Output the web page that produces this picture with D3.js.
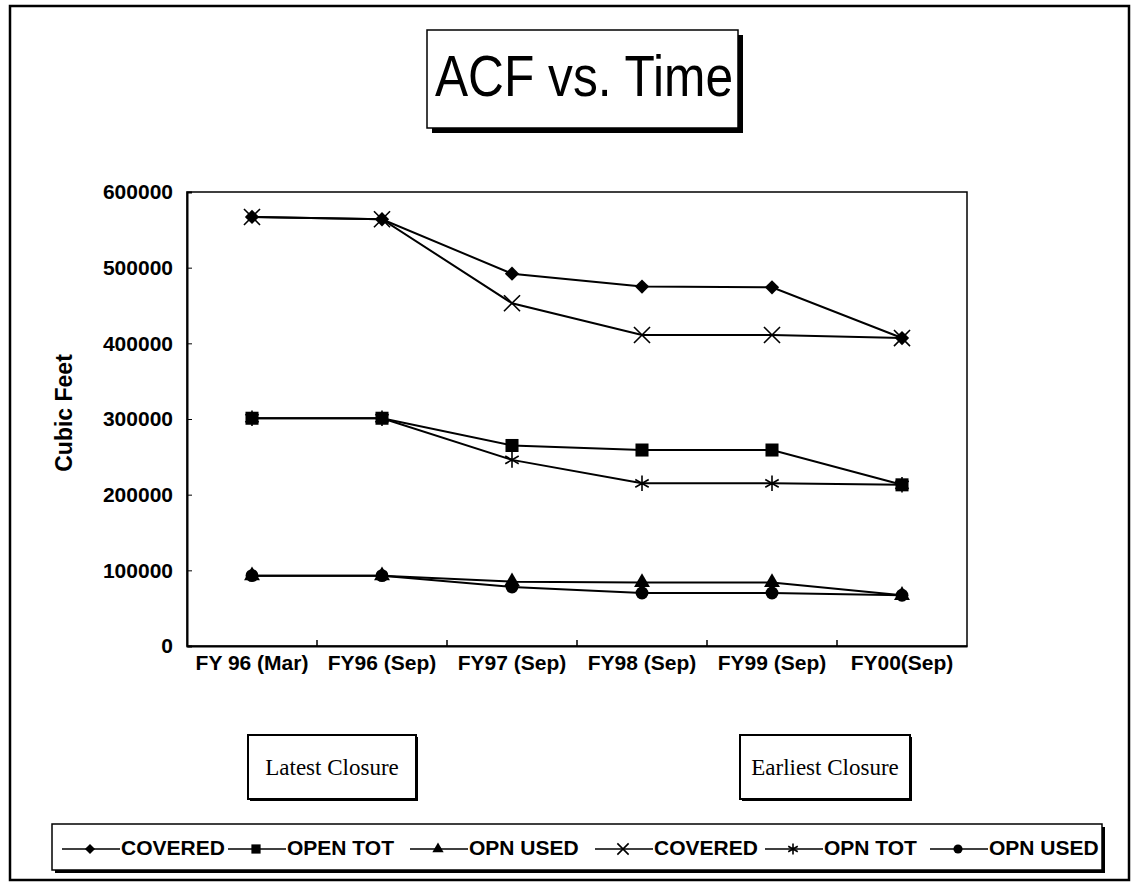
<!DOCTYPE html>
<html lang="en">
<head>
    <meta charset="UTF-8">
    <title>ACF vs. Time</title>
    <script src="https://cdn.jsdelivr.net/npm/d3@7"></script>
    <style>
        body { margin: 0; background: #fff; }
        .axis text, .legend_text, .ylab { font-family: "Liberation Sans", Arial, sans-serif; font-weight: bold; }
        .note { font-family: "Liberation Serif", "Times New Roman", serif; }
    </style>
</head>
<body>
    <svg width="1133" height="890"></svg>
    <script>
        // data
        const categories = ["FY 96 (Mar)", "FY96 (Sep)", "FY97 (Sep)", "FY98 (Sep)", "FY99 (Sep)", "FY00(Sep)"];
        const coveredA = [567000, 564000, 492000, 475000, 474000, 407000];
        const openTotA = [301000, 301000, 265000, 259000, 259000, 213000];
        const opnUsedA = [93000, 93000, 85000, 84000, 84000, 67000];
        const coveredB = [567000, 564000, 453000, 411000, 411000, 407000];
        const opnTotB = [301000, 301000, 246000, 215000, 215000, 213000];
        const opnUsedB = [93000, 93000, 78000, 70000, 70000, 67000];
        const seriesNames = ["COVERED", "OPEN TOT", "OPN USED", "COVERED", "OPN TOT", "OPN USED"];
        const yTicks = [0, 100000, 200000, 300000, 400000, 500000, 600000];

        const series = [
            { name: seriesNames[0], values: coveredA, sym: d3.symbolDiamond2, size: 130, fill: true },
            { name: seriesNames[1], values: openTotA, sym: d3.symbolSquare, size: 170, fill: true },
            { name: seriesNames[2], values: opnUsedA, sym: d3.symbolTriangle, size: 110, fill: true },
            { name: seriesNames[3], values: coveredB, sym: d3.symbolTimes, size: 170, fill: false },
            { name: seriesNames[4], values: opnTotB, sym: d3.symbolAsterisk, size: 170, fill: false },
            { name: seriesNames[5], values: opnUsedB, sym: d3.symbolCircle, size: 130, fill: true }
        ];

        const svg = d3.select("svg");

        // outer page frame
        svg.append("rect").attr("x", 10).attr("y", 6).attr("width", 1119).attr("height", 874)
            .attr("fill", "none").attr("stroke", "#000").attr("stroke-width", 2.5);

        // boxed text with a drop shadow
        function shadowBox(x, y, w, h, off, sw) {
            svg.append("rect").attr("x", x + off).attr("y", y + off).attr("width", w).attr("height", h).attr("fill", "#000");
            svg.append("rect").attr("x", x).attr("y", y).attr("width", w).attr("height", h)
                .attr("fill", "#fff").attr("stroke", "#000").attr("stroke-width", sw);
        }

        // title
        shadowBox(427, 30, 311, 98, 5, 1.5);
        svg.append("text").attr("x", 584).attr("y", 96).attr("text-anchor", "middle")
            .attr("font-family", "Liberation Sans, Arial, sans-serif").attr("font-size", 58)
            .attr("textLength", 298).attr("lengthAdjust", "spacingAndGlyphs")
            .text("ACF vs. Time");

        // plot
        const pLeft = 187, pRight = 967, pTop = 192, pBottom = 646;

        const x = d3.scaleBand().domain(categories).range([pLeft, pRight]);
        const y = d3.scaleLinear().domain([0, 600000]).range([pBottom, pTop]);

        svg.append("rect").attr("x", pLeft).attr("y", pTop).attr("width", pRight - pLeft).attr("height", pBottom - pTop)
            .attr("fill", "none").attr("stroke", "#000").attr("stroke-width", 1.5);

        const yAxis = svg.append("g").attr("class", "axis")
            .attr("transform", `translate(${pLeft},0)`)
            .call(d3.axisLeft(y).tickValues(yTicks).tickFormat(d3.format("d")).tickSize(-5).tickPadding(14));
        yAxis.selectAll("text").attr("font-size", 21).attr("fill", "#000");
        yAxis.select(".domain").attr("stroke-width", 2);

        const xAxis = svg.append("g").attr("class", "axis")
            .attr("transform", `translate(0,${pBottom})`)
            .call(d3.axisBottom(x).tickSize(0).tickPadding(9));
        xAxis.selectAll("text").attr("font-size", 21).attr("fill", "#000");
        xAxis.select(".domain").attr("stroke-width", 2);

        // category boundary ticks, pointing up into the plot
        svg.append("g").selectAll("line").data(categories.slice(1)).join("line")
            .attr("x1", d => x(d)).attr("x2", d => x(d))
            .attr("y1", pBottom).attr("y2", pBottom - 6)
            .attr("stroke", "#000").attr("stroke-width", 1.5);

        svg.append("text").attr("class", "ylab")
            .attr("transform", `translate(72,413) rotate(-90)`)
            .attr("text-anchor", "middle").attr("font-size", 23)
            .text("Cubic Feet");

        const line = d3.line().x((d, i) => x(categories[i]) + x.bandwidth() / 2).y(d => y(d));

        function marker(g, s) {
            return g.append("path")
                .attr("d", d3.symbol().type(s.sym).size(s.size))
                .attr("fill", s.fill ? "#000" : "none")
                .attr("stroke", "#000")
                .attr("stroke-width", s.fill ? 0 : 1.6);
        }

        series.forEach(s => {
            const g = svg.append("g");
            g.append("path").datum(s.values).attr("d", line)
                .attr("fill", "none").attr("stroke", "#000").attr("stroke-width", 2);
            s.values.forEach((v, i) => {
                marker(g, s).attr("transform", `translate(${x(categories[i]) + x.bandwidth() / 2},${y(v)})`);
            });
        });

        // closure notes
        shadowBox(248, 735, 168, 64, 2, 2);
        svg.append("text").attr("class", "note").attr("x", 332).attr("y", 775).attr("text-anchor", "middle")
            .attr("font-size", 23).text("Latest Closure");
        shadowBox(740, 735, 170, 64, 2, 2);
        svg.append("text").attr("class", "note").attr("x", 825).attr("y", 775).attr("text-anchor", "middle")
            .attr("font-size", 23).text("Earliest Closure");

        // legend
        shadowBox(52, 824, 1050, 46, 3, 1.5);
        const legendLines = [62, 228, 410, 595, 765, 930];
        const lg = svg.append("g");
        series.forEach((s, i) => {
            const x0 = legendLines[i];
            lg.append("line").attr("x1", x0).attr("x2", x0 + 58).attr("y1", 849).attr("y2", 849)
                .attr("stroke", "#000").attr("stroke-width", 1.5);
            marker(lg, { ...s, size: s.size * 0.5 }).attr("transform", `translate(${x0 + 28},${849})`);
            lg.append("text").attr("class", "legend_text").attr("x", x0 + 59).attr("y", 855)
                .attr("font-size", 21).text(s.name);
        });
    </script>
</body>
</html>
